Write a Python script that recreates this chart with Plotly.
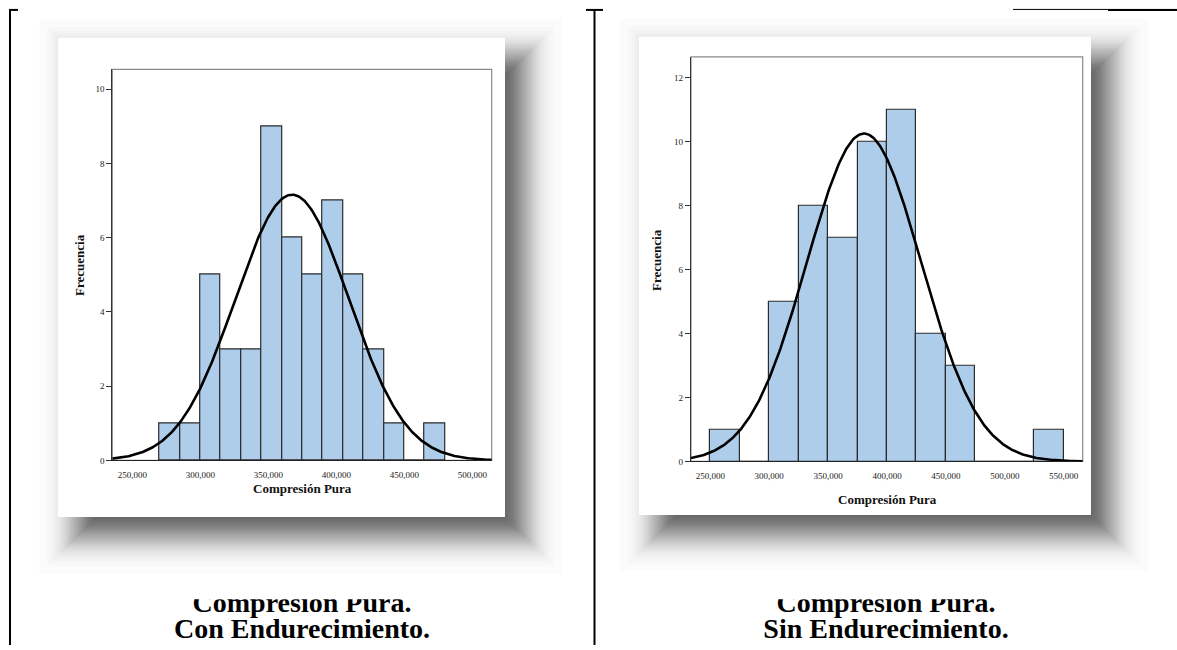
import plotly.graph_objects as go
import numpy as np
from statistics import NormalDist

W, H = 1177, 650

# ---------------- data ----------------
left_bin_starts = [270000, 285000, 300000, 315000, 330000, 345000, 360000,
                   375000, 390000, 405000, 420000, 435000, 450000, 465000]
left_counts = [1, 1, 5, 3, 3, 9, 6, 5, 7, 5, 3, 1, 0, 1]
left_bin_width = 15000
left_mean, left_sd, left_n = 367500, 41800, 50

right_bin_starts = [250000, 275000, 300000, 325000, 350000, 375000,
                    400000, 425000, 450000, 475000, 500000, 525000]
right_counts = [1, 0, 5, 8, 7, 10, 11, 4, 3, 0, 0, 1]
right_bin_width = 25000
right_mean, right_sd, right_n = 380500, 48600, 50

left_xticks = [250000, 300000, 350000, 400000, 450000, 500000]
right_xticks = [250000, 300000, 350000, 400000, 450000, 500000, 550000]
left_yticks = [0, 2, 4, 6, 8, 10]
right_yticks = [0, 2, 4, 6, 8, 10, 12]

x_title = "Compresión Pura"
y_title = "Frecuencia"
caption_line1 = "Compresión Pura."
left_caption_line2 = "Con Endurecimiento."
right_caption_line2 = "Sin Endurecimiento."

# ---------------- helpers ----------------
def px(x):
    return x / W

def py(y):
    return 1 - y / H

SERIF = "Liberation Serif"
BAR_FILL = "#AECDEA"
BAR_LINE = "#2b2b2b"

def normal_curve(mean, sd, n, bw, xr):
    xs = np.linspace(xr[0], xr[1], 400)
    ys = n * bw / (sd * np.sqrt(2 * np.pi)) * np.exp(-0.5 * ((xs - mean) / sd) ** 2)
    return xs, ys

fig = go.Figure()

# ---------------- left histogram ----------------
L_XR = [235300, 514300]
L_YR = [0, 10.53]
fig.add_trace(go.Bar(
    x=[s + left_bin_width / 2 for s in left_bin_starts], y=left_counts,
    width=left_bin_width, marker=dict(color=BAR_FILL, line=dict(color=BAR_LINE, width=1.2)),
    xaxis="x", yaxis="y", hoverinfo="skip", showlegend=False))
cx, cy = normal_curve(left_mean, left_sd, left_n, left_bin_width, L_XR)
fig.add_trace(go.Scatter(x=cx, y=cy, mode="lines", line=dict(color="#000", width=2.6),
                         xaxis="x", yaxis="y", hoverinfo="skip", showlegend=False))

# ---------------- right histogram ----------------
R_XR = [233600, 566100]
R_YR = [0, 12.66]
fig.add_trace(go.Bar(
    x=[s + right_bin_width / 2 for s in right_bin_starts], y=right_counts,
    width=right_bin_width, marker=dict(color=BAR_FILL, line=dict(color=BAR_LINE, width=1.2)),
    xaxis="x2", yaxis="y2", hoverinfo="skip", showlegend=False))
cx2, cy2 = normal_curve(right_mean, right_sd, right_n, right_bin_width, R_XR)
fig.add_trace(go.Scatter(x=cx2, y=cy2, mode="lines", line=dict(color="#000", width=2.6),
                         xaxis="x2", yaxis="y2", hoverinfo="skip", showlegend=False))

# ---------------- captions (first line clipped at top, as in the reference) ----------------
CLIP_Y = 604
cap_font = dict(family=SERIF, size=28, color="#000")
fig.add_trace(go.Scatter(
    x=[302, 886, 302, 886], y=[610, 610, 636, 636],
    text=["<b>%s</b>" % caption_line1, "<b>%s</b>" % caption_line1,
          "<b>%s</b>" % left_caption_line2, "<b>%s</b>" % right_caption_line2],
    mode="text", textposition="middle center", textfont=cap_font,
    cliponaxis=True, xaxis="x3", yaxis="y3", hoverinfo="skip", showlegend=False))

tickfont = dict(family=SERIF, size=9, color="#222")

def xaxis_cfg(dom, rng, ticks):
    return dict(domain=dom, range=rng, tickvals=ticks,
                ticktext=[f"{t:,}" for t in ticks], tickfont=tickfont,
                showgrid=False, zeroline=False, showline=True, linecolor="#222",
                linewidth=1.2, ticks="outside", ticklen=6, tickcolor="rgba(0,0,0,0)",
                fixedrange=True)

def yaxis_cfg(dom, rng, ticks, anchor):
    return dict(domain=dom, range=rng, tickvals=ticks, tickfont=tickfont,
                showgrid=False, zeroline=False, showline=True, linecolor="#333",
                linewidth=1.2, ticks="outside", ticklen=5, tickcolor="#333",
                tickwidth=1, anchor=anchor, fixedrange=True)

# plot areas in pixels
L_PA = (112.3, 70, 491.7, 464)
R_PA = (691, 57.3, 1082.7, 465)

layout = dict(
    width=W, height=H, margin=dict(l=0, r=0, t=0, b=0),
    paper_bgcolor="white", plot_bgcolor="rgba(0,0,0,0)",
    bargap=0, showlegend=False,
    xaxis=xaxis_cfg([px(L_PA[0]), px(L_PA[2])], L_XR, left_xticks) | dict(anchor="y"),
    yaxis=yaxis_cfg([py(L_PA[3]), py(L_PA[1])], L_YR, left_yticks, "x"),
    xaxis2=xaxis_cfg([px(R_PA[0]), px(R_PA[2])], R_XR, right_xticks) | dict(anchor="y2"),
    yaxis2=yaxis_cfg([py(R_PA[3]), py(R_PA[1])], R_YR, right_yticks, "x2"),
    xaxis3=dict(domain=[0, 1], range=[0, W], visible=False, anchor="y3", fixedrange=True),
    yaxis3=dict(domain=[0, (H - CLIP_Y) / H], range=[H, CLIP_Y], visible=False,
                anchor="x3", fixedrange=True),
)
fig.update_layout(**layout)

# ---------------- shapes: shadows, image boxes, frames, table lines ----------------
shapes = []
ND = NormalDist()

def add_shadow(x0, y0, x1, y1, sl=25, st=25, sr=13, sb=13, sigma=18, peak=0.6, K=64):
    """Soft drop shadow approximated by stacked translucent rectangles."""
    a = 1 - (1 - peak) ** (1.0 / K)
    bx0, by0, bx1, by1 = x0 + sl, y0 + st, x1 + sr, y1 + sb
    for k in range(K):
        e = sigma * ND.inv_cdf((k + 0.5) / K)
        shapes.append(dict(type="rect", xref="paper", yref="paper",
                           x0=px(bx0 - e), x1=px(bx1 + e),
                           y0=py(by1 + e), y1=py(by0 - e),
                           fillcolor=f"rgba(0,0,0,{a:.4f})", line=dict(width=0),
                           layer="below"))

IMG_L = (58, 38, 505, 521)
IMG_R = (639, 37, 1091, 519)
add_shadow(*IMG_L)
add_shadow(*IMG_R)
for (x0, y0, x1, y1) in (IMG_L, IMG_R):
    shapes.append(dict(type="rect", xref="paper", yref="paper",
                       x0=px(x0), x1=px(x1), y0=py(y1), y1=py(y0),
                       fillcolor="white", line=dict(width=0), layer="below"))

# gray frames around plot areas
for (x0, y0, x1, y1) in (L_PA, R_PA):
    shapes.append(dict(type="rect", xref="paper", yref="paper",
                       x0=px(x0), x1=px(x1), y0=py(y1), y1=py(y0),
                       fillcolor="rgba(0,0,0,0)", line=dict(color="#8a8a8a", width=1.2),
                       layer="below"))

# table border lines
def line(x0, y0, x1, y1, w=2, c="#000"):
    shapes.append(dict(type="line", xref="paper", yref="paper",
                       x0=px(x0), x1=px(x1), y0=py(y0), y1=py(y1),
                       line=dict(color=c, width=w), layer="above"))

line(10, 9.5, 10, 650)
line(9, 10, 18, 10)
line(594.5, 9.5, 594.5, 650)
line(586, 10, 603, 10)
line(1013, 9.5, 1177, 9.5, w=1)
line(1108, 10, 1177, 10, w=2)

fig.update_layout(shapes=shapes)

# ---------------- axis titles ----------------
ann = []
title_font = dict(family=SERIF, size=13, color="#111")
ylab_font = dict(family=SERIF, size=13, color="#111")
for (xx, yy) in ((302, 492), (887, 503)):
    ann.append(dict(text="<b>%s</b>" % x_title, x=px(xx), y=py(yy), xref="paper", yref="paper",
                    showarrow=False, xanchor="center", yanchor="middle", font=title_font))
for (xx, yy) in ((80, 267), (657, 262)):
    ann.append(dict(text="<b>%s</b>" % y_title, x=px(xx), y=py(yy), xref="paper", yref="paper",
                    showarrow=False, xanchor="center", yanchor="middle", textangle=-90,
                    font=ylab_font))
fig.update_layout(annotations=ann)

fig.write_html("out.html", post_script="document.body.style.margin='0px';",
               config={"displayModeBar": False})
